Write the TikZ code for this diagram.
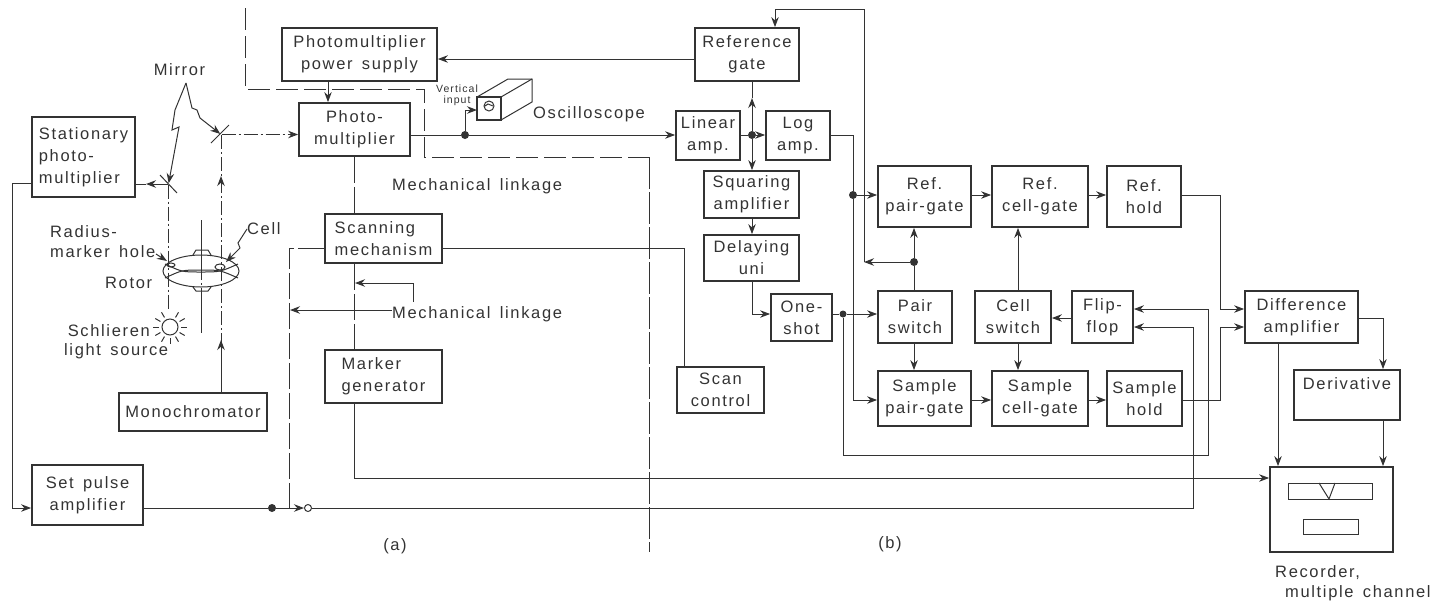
\documentclass[tikz,border=0pt]{standalone}
\usepackage{fontspec}
\setmainfont[LetterSpace=10,WordSpace=1.5]{Liberation Sans}
\usepackage{xcolor}
\usetikzlibrary{arrows.meta, positioning}
\definecolor{ink}{HTML}{333333}

\begin{document}
\begin{tikzpicture}[
    x=1pt, y=-1pt, color=ink,
    block/.style={
        rectangle, draw=ink, line width=1.8pt, inner sep=0pt,
        text centered, align=center,
        font=\fontsize{16.5}{22}\selectfont
    },
    note/.style={font=\fontsize{16.5}{20}\selectfont, align=left, inner sep=0pt},
    tiny note/.style={font=\fontsize{10.5}{11}\selectfont, align=center, inner sep=0pt},
    wire/.style={line width=1pt},
    arrow/.style={wire, -{Stealth[length=10pt, width=7.5pt]}},
    beam/.style={wire, dash pattern=on 14pt off 3pt on 2pt off 3pt},
    linkage/.style={wire, dash pattern=on 26pt off 4pt},
    border/.style={wire, dash pattern=on 22pt off 6pt},
    dot/.style={circle, fill=ink, inner sep=0pt, minimum size=8pt},
]
\useasboundingbox (0,0) rectangle (1438,606);

%% Blocchi parte (a)
\node[block, minimum width=155pt, minimum height=53pt] (psupply) at (359.5,54.5) {Photomultiplier\\power supply};
\node[block, minimum width=111pt, minimum height=53pt] (pmult) at (354.5,129.5) {Photo-\\multiplier};
\node[block, align=left, minimum width=103pt, minimum height=80pt] (statpm) at (83.5,157) {Stationary\\photo-\\multiplier};
\node[block, align=left, minimum width=117pt, minimum height=49pt] (scanmech) at (383.5,238.5) {Scanning\\mechanism};
\node[block, align=left, minimum width=117pt, minimum height=53pt] (markgen) at (383.5,376.5) {Marker\\generator};
\node[block, minimum width=148pt, minimum height=38pt] (mono) at (193,412) {Monochromator};
\node[block, minimum width=111pt, minimum height=60pt] (setpulse) at (87.5,495) {Set pulse\\amplifier};

%% Blocchi parte (b)
\node[block, minimum width=104pt, minimum height=53pt] (refgate) at (747,54.5) {Reference\\gate};
\node[block, minimum width=64pt, minimum height=49pt] (linamp) at (708,135.5) {Linear\\amp.};
\node[block, minimum width=64pt, minimum height=49pt] (logamp) at (798,135.5) {Log\\amp.};
\node[block, minimum width=95pt, minimum height=47pt] (squaring) at (751.5,194.5) {Squaring\\amplifier};
\node[block, minimum width=95pt, minimum height=46pt] (delay) at (751.5,258) {Delaying\\uni};
\node[block, minimum width=61pt, minimum height=47pt] (oneshot) at (801.5,317.5) {One-\\shot};
\node[block, minimum width=87pt, minimum height=46pt] (scanctl) at (720.5,390) {Scan\\control};
\node[block, minimum width=93pt, minimum height=61pt] (rpair) at (924.5,196.5) {Ref.\\pair-gate};
\node[block, minimum width=96pt, minimum height=61pt] (rcell) at (1040,196.5) {Ref.\\cell-gate};
\node[block, minimum width=74pt, minimum height=61pt] (rhold) at (1144,196.5) {Ref.\\hold};
\node[block, minimum width=74pt, minimum height=52pt] (pairsw) at (915,317) {Pair\\switch};
\node[block, minimum width=76pt, minimum height=52pt] (cellsw) at (1013,317) {Cell\\switch};
\node[block, minimum width=61pt, minimum height=52pt] (flipflop) at (1102.5,317) {Flip-\\flop};
\node[block, minimum width=113pt, minimum height=52pt] (diffamp) at (1301.5,317) {Difference\\amplifier};
\node[block, minimum width=93pt, minimum height=55pt] (spair) at (924.5,398.5) {Sample\\pair-gate};
\node[block, minimum width=96pt, minimum height=55pt] (scell) at (1040,398.5) {Sample\\cell-gate};
\node[block, minimum width=75pt, minimum height=55pt] (shold) at (1144.5,398.5) {Sample\\hold};
\node[block, minimum width=106pt, minimum height=50pt] (deriv) at (1347,395) {Derivative\\[-6pt]\strut};
\node[block, minimum width=123pt, minimum height=85pt] (recorder) at (1331.5,509.5) {};

%% Registratore
\draw[wire] (1288,483) rectangle (1372,499);
\draw[wire] (1319,483) -- (1329,499) -- (1335,483);
\draw[wire] (1303,519) rectangle (1358,534);

%% Scritte
\node[note, anchor=center] (mirrorlbl) at (179.5,70) {Mirror};
\node[note, anchor=west] (celllbl) at (247,229) {Cell};
\node[note, anchor=west] (radiuslbl) at (50,242) {Radius-\\marker hole};
\node[note, anchor=west] (rotorlbl) at (105,283) {Rotor};
\node[note, anchor=east] (schlierenlbl) at (150,331) {Schlieren};
\node[note, anchor=west] (sourcelbl) at (64,351) {light source};
\node[tiny note] (verticallbl) at (457,95) {Vertical\\input};
\node[note, anchor=west] (scopelbl) at (533,114) {Oscilloscope};
\node[note, anchor=west] (linkone) at (392,186) {Mechanical linkage};
\node[note, anchor=west] (linktwo) at (392,314) {Mechanical linkage};
\node[note] (alabel) at (395,546) {(a)};
\node[note] (blabel) at (890,544) {(b)};
\node[note, anchor=west] (recone) at (1275,573) {Recorder,};
\node[note, anchor=west] (rectwo) at (1285,593) {multiple channel};

%% Oscilloscopio
\draw[wire] (477,97) -- (508,79) -- (532,79) -- (532,102) -- (501,120);
\draw[wire] (501,97) -- (532,79);
\draw[line width=1.3pt] (477,97) rectangle (501,120);
\draw[wire] (489,106) circle (5);
\draw[wire] (485,106) -- (488,104) -- (493,106);

%% Rotore e sorgente
\draw[wire] (201,271) ellipse (38 and 16);
\draw[wire] (193,255) -- (196,250) -- (208,250) -- (211,255);
\draw[wire] (193,287) -- (196,291) -- (208,291) -- (211,287);
\draw[wire] (165,264) .. controls (182,272) .. (201,272) .. controls (220,272) .. (238,264);
\draw[wire] (165,278) .. controls (182,270) .. (201,270) .. controls (220,270) .. (238,278);
\draw[wire] (171,265) ellipse (4 and 2);
\draw[wire] (220,267) ellipse (5 and 3);
\draw[wire] (170,327) circle (8);
\foreach \ang in {-30,-60,-120,-150,180,150,120,60,30,0,90}
    \draw[wire] (170,327) ++(\ang:11) -- ++(\ang:6);

%% Specchi
\node[inner sep=0pt] (uppermirror) at (221,134.5) {};
\node[inner sep=0pt] (lowermirror) at (168.5,184) {};
\draw[wire] (211,143) -- (229,125);
\draw[wire] (160,175) -- (177,193);
\coordinate (apex) at (186,83);
\draw[arrow] (apex) -- (175,110) -- (172,130) -- (179,127) -- (lowermirror);
\draw[arrow] (apex) -- (192,108) -- (197,110) -- (200,118) -- (uppermirror);
\draw[arrow] (celllbl.west) -- (238,243) -- (240,248) -- (226,262);
\draw[arrow] (156,254) -- (167,261);

%% Fasci ottici
\draw[beam, -{Stealth[length=10pt, width=7.5pt]}] (uppermirror) -- (pmult.west |- uppermirror);
\draw[beam] (lowermirror) -- (statpm.east |- lowermirror);
\draw[arrow] (lowermirror -| 156,0) -- (146,184);
\draw[beam] (lowermirror) -- (168.5,310);
\coordinate (axistop) at (201,220);
\coordinate (axisend) at (201,333);
\draw[wire, dash pattern=on 60pt off 3pt on 2pt off 3pt] (axistop) -- (axisend);
\draw[beam] (uppermirror) -- (221,345);
\draw[arrow] (221,190) -- (221,176);
\draw[arrow] (mono.north -| 221,0) -- (221,340);

%% Collegamenti meccanici
\draw[linkage] (pmult.south -| 354,0) -- (scanmech.north -| 354,0);
\draw[linkage] (scanmech.south -| 354,0) -- (markgen.north -| 354,0);
\draw[linkage] (scanmech.west |- 0,248) -- (289,248) -- (289,508);
\draw[arrow] (linktwo.west |- 0,310) -- (290,310);
\draw[arrow] (413,302) -- (413,283) -- (355,283);

%% Linea di separazione
\draw[border] (245,8) -- (245,89) -- (424,89) -- (424,157) -- (649,157);
\draw[wire, dash pattern=on 32pt off 3pt] (649,157) -- (649,552);

%% Frecce parte (a)
\draw[arrow] (refgate.west |- 0,59) -- (psupply.east |- 0,59);
\draw[arrow] (psupply.south -| 328,0) -- (pmult.north -| 328,0);
\draw[arrow] (statpm.west |- 0,183) -- (12,183) -- (12,508) -- (setpulse.west |- 0,508);

\node[dot] (scopedot) at (465,135) {};
\draw[wire] (pmult.east |- scopedot) -- (scopedot);
\draw[arrow] (scopedot) -- (linamp.west |- scopedot);
\draw[arrow] (scopedot) -- (465,110) -- (477,110);
\draw[wire] (scanmech.east |- 0,248) -- (684,248) -- (scanctl.north -| 684,0);
\draw[arrow] (markgen.south -| 354,0) -- (354,478) -- (recorder.west |- 0,478);

\node[dot] (setdot) at (272,508) {};
\node[circle, draw=ink, line width=1pt, inner sep=0pt, minimum size=7pt] (contact) at (308,508) {};
\draw[wire] (setpulse.east |- setdot) -- (setdot);
\draw[arrow] (setdot) -- (contact.west);
\draw[wire] (contact.east) -- (1193,508) -- (1193,327);
\draw[arrow] (1193,327) -- (flipflop.east |- 0,327);

%% Frecce parte (b)
\node[dot] (centerdot) at (752,135) {};
\draw[wire] (linamp.east |- centerdot) -- (centerdot);
\draw[arrow] (centerdot) -- (logamp.west |- centerdot);
\draw[arrow] (centerdot) -- (752,98);
\draw[wire] (752,98) -- (refgate.south -| 752,0);
\draw[arrow] (centerdot) -- (squaring.north -| 752,0);
\draw[arrow] (squaring.south -| 752,0) -- (delay.north -| 752,0);
\draw[arrow] (delay.south -| 752,0) -- (752,314) -- (oneshot.west |- 0,314);

\node[dot] (logdot) at (853,195) {};
\draw[wire] (logamp.east |- 0,135) -- (853,135) -- (logdot);
\draw[arrow] (logdot) -- (rpair.west |- logdot);
\draw[arrow] (logdot) -- (853,400) -- (spair.west |- 0,400);

\node[dot, minimum size=7pt] (shotdot) at (843,314) {};
\draw[wire] (oneshot.east |- shotdot) -- (shotdot);
\draw[arrow] (shotdot) -- (pairsw.west |- shotdot);
\draw[arrow] (shotdot) -- (843,455) -- (1208,455) -- (1208,309) -- (flipflop.east |- 0,309);

\node[dot] (pairdot) at (914,262) {};
\draw[wire] (pairsw.north -| 914,0) -- (pairdot);
\draw[arrow] (pairdot) -- (rpair.south -| 914,0);
\draw[arrow] (pairdot) -- (864,262);
\draw[arrow] (864,262) -- (864,9) -- (775,9) -- (refgate.north -| 775,0);
\draw[arrow] (pairsw.south -| 914,0) -- (spair.north -| 914,0);

\draw[arrow] (rpair.east |- 0,195) -- (rcell.west |- 0,195);
\draw[arrow] (rcell.east |- 0,195) -- (rhold.west |- 0,195);
\draw[arrow] (spair.east |- 0,400) -- (scell.west |- 0,400);
\draw[arrow] (scell.east |- 0,400) -- (shold.west |- 0,400);
\draw[arrow] (cellsw.north -| 1018,0) -- (rcell.south -| 1018,0);
\draw[arrow] (cellsw.south -| 1018,0) -- (scell.north -| 1018,0);
\draw[arrow] (flipflop.west |- 0,318) -- (cellsw.east |- 0,318);

\draw[arrow] (rhold.east |- 0,195) -- (1220,195) -- (1220,309) -- (diffamp.west |- 0,309);
\draw[arrow] (shold.east |- 0,400) -- (1220,400) -- (1220,327) -- (diffamp.west |- 0,327);
\draw[arrow] (diffamp.east |- 0,318) -- (1383,318) -- (deriv.north -| 1383,0);
\draw[arrow] (deriv.south -| 1383,0) -- (recorder.north -| 1383,0);
\draw[arrow] (diffamp.south -| 1278,0) -- (recorder.north -| 1278,0);

\end{tikzpicture}
\end{document}
